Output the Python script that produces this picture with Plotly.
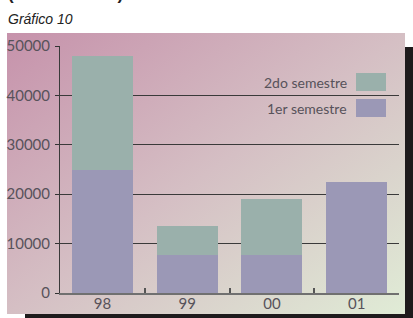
import base64
import plotly.graph_objects as go

# ---- data ----
categories = ["98", "99", "00", "01"]
primer_semestre = [25000, 7600, 7600, 22400]
segundo_semestre = [23000, 5900, 11400, None]
series_names = ["1er semestre", "2do semestre"]
y_ticks = [0, 10000, 20000, 30000, 40000, 50000]
y_tick_labels = ["0", "10000", "20000", "30000", "40000", "50000"]
title_text = "Gráfico 10"
top_text = "(en toneladas)"

# ---- geometry (pixels) ----
W, H = 413, 318
L, R, T, B = 60, 399, 46, 293
PW, PH = R - L, B - T

def px(x):
    return (x - L) / PW

def py(y):
    return (B - y) / PH

C1 = "#9b98b6"
C2 = "#9ab0ab"
TXT = "#57525a"
FONT = "Lato, 'Open Sans', sans-serif"

svg = f"""<svg xmlns='http://www.w3.org/2000/svg' width='{W}' height='{H}' viewBox='0 0 {W} {H}'>
<defs><linearGradient id='g' x1='0' y1='0' x2='1' y2='1'>
<stop offset='0' stop-color='#c692ab'/>
<stop offset='0.5' stop-color='#d5bfc4'/>
<stop offset='1' stop-color='#e0ecd6'/>
</linearGradient></defs>
<rect x='0' y='0' width='{W}' height='{H}' fill='white'/>
<rect x='25' y='47' width='400' height='290' fill='#1e1b1c'/>
<rect x='7' y='33' width='398' height='281' fill='url(#g)'/>
</svg>"""
src = "data:image/svg+xml;base64," + base64.b64encode(svg.encode()).decode()

fig = go.Figure()
fig.add_bar(x=categories, y=primer_semestre, name=series_names[0], marker_color=C1,
            marker_line_width=0)
fig.add_bar(x=categories, y=segundo_semestre, name=series_names[1], marker_color=C2,
            marker_line_width=0)

fig.update_layout(
    width=W, height=H,
    margin=dict(l=L, r=W - R, t=T, b=H - B, pad=0, autoexpand=False),
    barmode="stack", bargap=0.28,
    showlegend=False,
    paper_bgcolor="white", plot_bgcolor="rgba(0,0,0,0)",
    font=dict(family=FONT, size=14, color=TXT),
    images=[dict(source=src, xref="paper", yref="paper",
                 x=px(0), y=py(0), sizex=W / PW, sizey=H / PH,
                 sizing="stretch", xanchor="left", yanchor="top", layer="below")],
)
fig.update_yaxes(range=[0, 50000], tickvals=y_ticks, ticktext=y_tick_labels,
                 ticks="outside", ticklen=4, automargin=False,
                 tickcolor="#333", showline=True, linecolor="#3a3a3a", linewidth=1,
                 showgrid=True, gridcolor="#3a3a3a", gridwidth=1, zeroline=False,
                 tickfont=dict(size=15, color=TXT), ticklabelstandoff=2)
fig.update_xaxes(type="category", range=[-0.5, 3.5], tickson="boundaries",
                 ticks="inside", ticklen=5, tickcolor="#555", tickwidth=1.5,
                 automargin=False, ticklabelstandoff=-4,
                 showline=True, linecolor="#707070", linewidth=2, showgrid=False,
                 tickfont=dict(size=15, color=TXT))

# custom legend (text left of swatch)
legend_rows = [(series_names[1], C2, 82), (series_names[0], C1, 108)]
for name, col, yc in legend_rows:
    fig.add_shape(type="rect", xref="paper", yref="paper",
                  x0=px(356), x1=px(386), y0=py(yc + 9), y1=py(yc - 9),
                  fillcolor=col, line_width=0, layer="above")
    fig.add_annotation(text=name, xref="paper", yref="paper", x=px(349), y=py(yc),
                       xanchor="right", yanchor="middle", showarrow=False,
                       font=dict(family=FONT, size=14, color=TXT))

fig.add_annotation(text="<i>" + title_text + "</i>", xref="paper", yref="paper",
                   x=px(6), y=py(19), xanchor="left", yanchor="middle", showarrow=False,
                   font=dict(family="Liberation Sans, Arial, sans-serif", size=14,
                             color="#222"))
fig.add_annotation(text="<b>" + top_text + "</b>", xref="paper", yref="paper",
                   x=px(6), y=py(-5), xanchor="left", yanchor="middle", showarrow=False,
                   font=dict(family="Liberation Sans, Arial, sans-serif", size=17,
                             color="#222"))

fig.write_html("out.html", config={"displayModeBar": False})

with open("out.html", encoding="utf-8") as f:
    html = f.read()
html = html.replace("<head>", "<head><style>html,body{margin:0;padding:0;overflow:hidden}</style>", 1)
with open("out.html", "w", encoding="utf-8") as f:
    f.write(html)
